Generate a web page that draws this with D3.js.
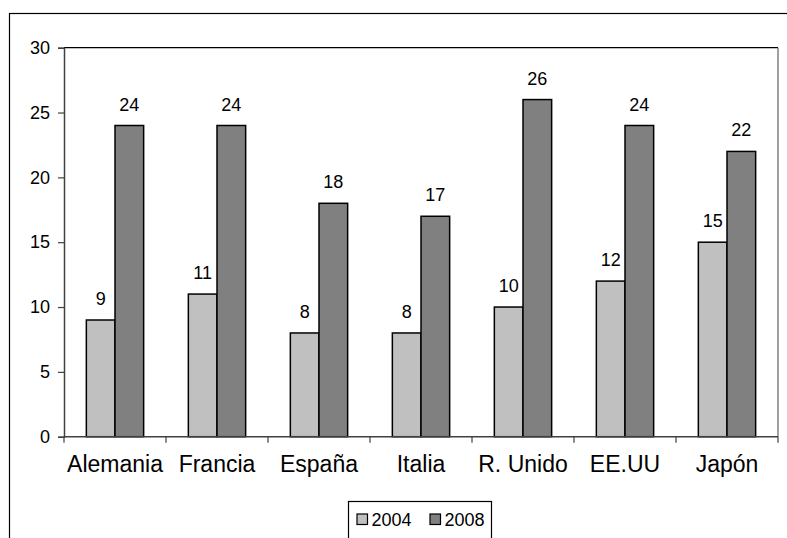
<!DOCTYPE html>
<html>
<head>
<meta charset="utf-8">
<script src="https://cdn.jsdelivr.net/npm/d3@7"></script>
<style>
  html, body { margin: 0; padding: 0; background: #fff; }
  svg { display: block; font-family: "Liberation Sans", Arial, Helvetica, sans-serif; }
</style>
</head>
<body>
<svg id="chart" width="787" height="538"></svg>
<script>
// Data
const categories = ["Alemania", "Francia", "España", "Italia", "R. Unido", "EE.UU", "Japón"];
const seriesNames = ["2004", "2008"];
const values2004 = [9, 11, 8, 8, 10, 12, 15];
const values2008 = [24, 24, 18, 17, 26, 24, 22];
const yTicks = [0, 5, 10, 15, 20, 25, 30];
const seriesColors = ["#c0c0c0", "#808080"];

const svg = d3.select("#chart");

// Outer frame (open on the right and bottom)
svg.append("rect")
  .attr("x", 9.5).attr("y", 13.5)
  .attr("width", 800).attr("height", 600)
  .attr("fill", "none").attr("stroke", "#000").attr("stroke-width", 1.2);

const plot = { left: 64, right: 778, top: 47.7, bottom: 436.7 };

const x0 = d3.scaleBand()
  .domain(categories)
  .range([plot.left, plot.right])
  .paddingInner(0)
  .paddingOuter(0);

const x1 = d3.scaleBand()
  .domain(seriesNames)
  .range([0, x0.bandwidth()])
  .paddingInner(0)
  .paddingOuter(0.78);

const y = d3.scaleLinear().domain([0, 30]).range([plot.bottom, plot.top]);

// Plot area border: top black, right gray
svg.append("line")
  .attr("x1", plot.left).attr("x2", plot.right)
  .attr("y1", plot.top).attr("y2", plot.top)
  .attr("stroke", "#000").attr("stroke-width", 1.2);
svg.append("line")
  .attr("x1", plot.right).attr("x2", plot.right)
  .attr("y1", plot.top).attr("y2", plot.bottom)
  .attr("stroke", "#808080").attr("stroke-width", 1.5);

// Bars
const rows = categories.map((c, i) => ({ cat: c, vals: [values2004[i], values2008[i]] }));
const groups = svg.append("g").selectAll("g")
  .data(rows).join("g")
  .attr("transform", d => `translate(${x0(d.cat)},0)`);

groups.selectAll("rect")
  .data(d => d.vals.map((v, j) => ({ key: seriesNames[j], v, j })))
  .join("rect")
  .attr("x", d => x1(d.key))
  .attr("y", d => y(d.v))
  .attr("width", x1.bandwidth())
  .attr("height", d => y(0) - y(d.v))
  .attr("fill", d => seriesColors[d.j])
  .attr("stroke", "#000")
  .attr("stroke-width", 1.5);

// Value labels
groups.selectAll("text")
  .data(d => d.vals.map((v, j) => ({ key: seriesNames[j], v, j })))
  .join("text")
  .attr("x", d => x1(d.key) + x1.bandwidth() / 2)
  .attr("y", d => y(d.v) - 15)
  .attr("text-anchor", "middle")
  .attr("font-size", 18)
  .attr("fill", "#000")
  .text(d => d.v);

// Y axis
const yAxis = svg.append("g")
  .attr("transform", `translate(${plot.left},0)`)
  .call(d3.axisLeft(y).tickValues(yTicks).tickSize(6).tickPadding(8).tickFormat(d3.format("d")));
yAxis.select(".domain").attr("stroke", "#404040").attr("stroke-width", 1.5);
yAxis.selectAll(".tick line").attr("stroke", "#404040").attr("stroke-width", 1.2);
yAxis.selectAll(".tick text")
  .attr("font-size", 18)
  .attr("font-family", "Liberation Sans, Arial, sans-serif")
  .attr("fill", "#000");

// X axis: ticks at category boundaries
const xAxisG = svg.append("g").attr("transform", `translate(0,${plot.bottom})`);
xAxisG.append("line")
  .attr("x1", plot.left).attr("x2", plot.right)
  .attr("y1", 0).attr("y2", 0)
  .attr("stroke", "#404040").attr("stroke-width", 1.5);
const boundaries = categories.map(c => x0(c)).concat([plot.right]);
xAxisG.selectAll("line.tk")
  .data(boundaries).join("line")
  .attr("class", "tk")
  .attr("x1", d => d).attr("x2", d => d)
  .attr("y1", 0).attr("y2", 6)
  .attr("stroke", "#404040").attr("stroke-width", 1.2);
xAxisG.selectAll("text")
  .data(categories).join("text")
  .attr("x", d => x0(d) + x0.bandwidth() / 2)
  .attr("y", 35)
  .attr("text-anchor", "middle")
  .attr("font-size", 23)
  .attr("fill", "#000")
  .text(d => d);

// Legend
const legend = svg.append("g");
legend.append("rect")
  .attr("x", 348.5).attr("y", 501.5)
  .attr("width", 143).attr("height", 60)
  .attr("fill", "#fff").attr("stroke", "#000").attr("stroke-width", 1.2);
const legendX = [357, 430];
seriesNames.forEach((name, i) => {
  legend.append("rect")
    .attr("x", legendX[i]).attr("y", 514)
    .attr("width", 10.5).attr("height", 10.5)
    .attr("fill", seriesColors[i])
    .attr("stroke", "#000").attr("stroke-width", 1.2);
  legend.append("text")
    .attr("x", legendX[i] + 14.5)
    .attr("y", 526)
    .attr("font-size", 18)
    .attr("fill", "#000")
    .text(name);
});
</script>
</body>
</html>
